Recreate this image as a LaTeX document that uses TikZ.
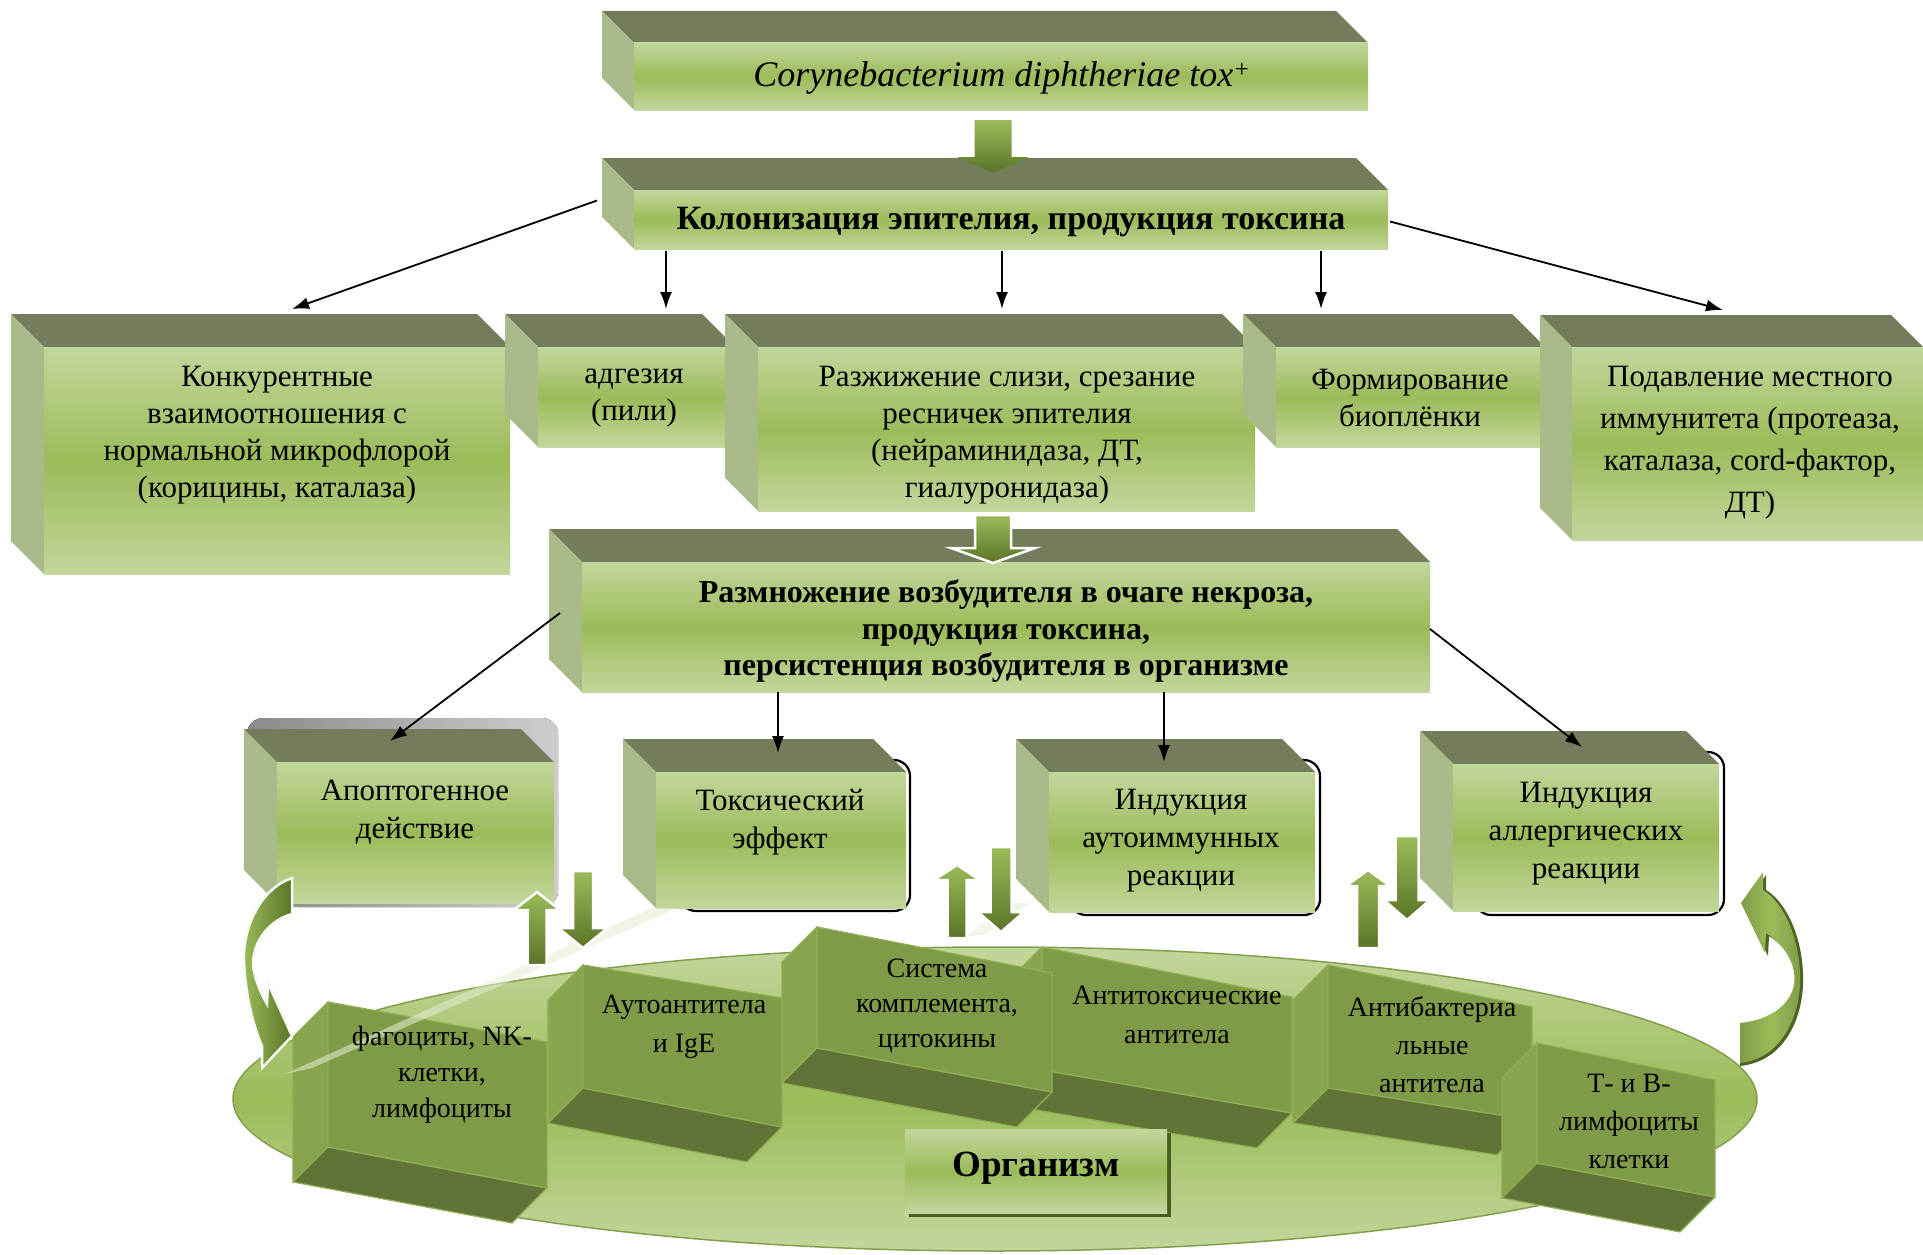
\documentclass[tikz,border=0pt]{standalone}
\usepackage{fontspec}
\setmainfont{Liberation Serif}
\usetikzlibrary{arrows.meta,calc}
\definecolor{gtop}{HTML}{737D5C}
\definecolor{gside}{HTML}{A9B98A}
\definecolor{glight}{HTML}{C3D69B}
\definecolor{gmid}{HTML}{9BBB59}
\definecolor{slabF}{HTML}{809B48}
\definecolor{slabL}{HTML}{88A44E}
\definecolor{slabB}{HTML}{607438}
\definecolor{gdark}{HTML}{5A7428}
\definecolor{gshadow}{HTML}{ADADAD}
\tikzset{
 topface/.style={fill=gtop},
 sideface/.style={fill=gside},
 frontface/.style={top color=glight, bottom color=glight, middle color=gmid, inner sep=0pt, outer sep=0pt, draw=none},
 txt/.style={align=center, font=\fontsize{31}{37}\selectfont, inner sep=0pt},
 btxt/.style={align=center, font=\fontsize{32}{36.5}\selectfont\bfseries, inner sep=0pt},
 stxt/.style={align=center, font=\fontsize{28}{36}\selectfont, inner sep=0pt},
 conn/.style={-{Latex[length=17pt,width=12pt]}, line width=1.8pt},
 blockarr/.style={top color=gmid, bottom color=gdark},
 whiteedge/.style={draw=white, line width=2.5pt},
 slabedge/.style={draw=gmid!60!slabF, line width=1.2pt},
}
\newcommand\cubebox[6]{%
 \fill[topface] (#2-#6,#3-#6) -- (#4-#6,#3-#6) -- (#4,#3) -- (#2,#3) -- cycle;
 \fill[sideface] (#2-#6,#3-#6) -- (#2,#3) -- (#2,#5) -- (#2-#6,#5-#6) -- cycle;
 \node[frontface, anchor=north west, minimum width={#4-#2}, minimum height={#5-#3}] (#1) at (#2,#3) {};
}
\newcommand\blockarrow[7]{%
 \path[#1] (#2-#6/2,#3) -- (#2+#6/2,#3) -- (#2+#6/2,#4) -- (#2+#7/2,#4) -- (#2,#5) -- (#2-#7/2,#4) -- (#2-#6/2,#4) -- cycle;
}
\newcommand\slab[6]{%
 \filldraw[fill=slabL, slabedge] (#1,#3) -- (#1,#6) -- (#1-35,#6+35) -- (#1-35,#3+35) -- cycle;
 \filldraw[fill=slabB, slabedge] (#1,#6) -- (#2,#5) -- (#2-35,#5+35) -- (#1-35,#6+35) -- cycle;
 \filldraw[fill=slabF, slabedge] (#1,#3) -- (#2,#4) -- (#2,#5) -- (#1,#6) -- cycle;
}
\begin{document}
\begin{tikzpicture}[x=1pt,y=-1pt]
\useasboundingbox (0,0) rectangle (1923,1255);

% ---- top boxes
\cubebox{A}{634}{43}{1368}{110}{32}
\cubebox{B}{634}{190}{1388}{249}{32}
\blockarrow{blockarr}{993}{120}{157}{173}{37}{72}

% ---- row 2
\cubebox{C}{44}{347}{510}{574}{33}
\cubebox{D}{538}{347}{735}{447}{33}
\cubebox{E}{758}{347}{1255}{511}{33}
\cubebox{F}{1276}{347}{1545}{447}{33}
\cubebox{G}{1572}{347}{1923}{540}{32}

% ---- H
\cubebox{H}{582}{562}{1430}{692}{33}
\blockarrow{blockarr,whiteedge}{993}{515}{548}{563}{36}{84}

% ---- organism plate
\path[top color=glight, bottom color=glight, middle color=gmid, draw=gmid!85!black, line width=1.5pt]
  (995,1099) ellipse [x radius=762, y radius=152];

% ---- row 4
\fill[left color=gshadow!80!black, right color=gshadow!60, rounded corners=16pt] (247,868) -- (247,718) -- (558,718) -- (558,907) -- (282,907) -- cycle;
\cubebox{I}{277}{762}{554}{903}{33}
\draw[line width=2.2pt, rounded corners=16pt] (680,760) rectangle (910,911);
\cubebox{J}{656}{772}{906}{908}{33}
\draw[line width=2.2pt, rounded corners=16pt] (1070,760) rectangle (1320,915);
\cubebox{K}{1049}{772}{1315}{912}{33}
\draw[line width=2.2pt, rounded corners=16pt] (1475,752) rectangle (1724,915);
\cubebox{L}{1453}{764}{1719}{911}{33}

% ---- slabs
\slab{328}{547}{1002}{1042}{1188}{1147}
\slab{583}{782}{965}{998}{1127}{1088}
\slab{1042}{1292}{947}{997}{1113}{1070}
\slab{817}{1052}{927}{973}{1092}{1048}
\slab{1328}{1532}{965}{1007}{1120}{1088}
\slab{1537}{1715}{1043}{1080}{1197}{1163}

% faint reflections
\fill[white!55!glight, opacity=0.55] (652,908) -- (678,908) -- (312,1068) -- (285,1074) -- cycle;
\fill[white!55!glight, opacity=0.5] (1012,903) -- (1030,903) -- (985,935) -- (966,936) -- cycle;

% ---- organism box
\fill[gdark!80!black] (909,1133) rectangle (1171,1217);
\node[frontface, anchor=north west, minimum width=262, minimum height=84] (org) at (905,1129) {};

% ---- vertical double arrows
\blockarrow{blockarr,whiteedge}{537}{965}{910}{892}{19}{46}
\blockarrow{blockarr,whiteedge}{583}{871}{928}{948}{20}{49}
\blockarrow{blockarr,whiteedge}{957}{938}{880}{865}{19}{46}
\blockarrow{blockarr,whiteedge}{1001}{847}{912}{932}{21}{46}
\blockarrow{blockarr,whiteedge}{1368}{948}{886}{870}{22}{44}
\blockarrow{blockarr,whiteedge}{1407}{836}{900}{920}{23}{46}

% ---- curved arrows
\path[left color=gmid, right color=gdark, draw=white!92!gmid, line width=2.5pt]
  (292,878) .. controls (262,888) and (243,925) .. (244,960)
  .. controls (245,995) and (254,1028) .. (262,1046) -- (262,1068) -- (292,1036) -- (268,983)
  -- (267,1004) .. controls (259,990) and (253,975) .. (253,962)
  .. controls (254,940) and (270,920) .. (292,914) -- cycle;
\fill[gdark!85!black]
  (1740,1066) .. controls (1788,1061) and (1805,1012) .. (1803,973)
  .. controls (1801,930) and (1783,900) .. (1766,890) -- (1766,875) -- (1744,906) -- (1768,956)
  -- (1769,936) .. controls (1788,948) and (1800,968) .. (1797,988)
  .. controls (1793,1008) and (1773,1023) .. (1743,1026) -- cycle;
\path[left color=slabF, right color=slabF, middle color=gmid]
  (1740,1063) .. controls (1785,1058) and (1802,1010) .. (1800,973)
  .. controls (1798,930) and (1780,900) .. (1763,890) -- (1763,872) -- (1741,903) -- (1765,953)
  -- (1766,933) .. controls (1785,945) and (1797,965) .. (1794,985)
  .. controls (1790,1005) and (1770,1020) .. (1740,1023) -- cycle;

% ---- texts
\node[align=center, inner sep=0pt, font=\fontsize{36}{40}\selectfont\itshape] (tA) at (1002,78) {Corynebacterium diphtheriae tox\textsuperscript{+}};
\node[btxt, font=\fontsize{34}{38}\selectfont\bfseries] (tB) at (1011,222) {Колонизация эпителия, продукция токсина};
\node[txt] (tC) at (277,435) {Конкурентные\\взаимоотношения с\\нормальной микрофлорой\\(корицины, каталаза)};
\node[txt] (tD) at (634,398) {адгезия\\(пили)};
\node[txt] (tE) at (1007,435) {Разжижение слизи, срезание\\ресничек эпителия\\(нейраминидаза, ДТ,\\гиалуронидаза)};
\node[txt] (tF) at (1410,398) {Формирование\\биоплёнки};
\node[txt, font=\fontsize{31}{42}\selectfont] (tG) at (1750,443) {Подавление местного\\иммунитета (протеаза,\\каталаза, cord-фактор,\\ДТ)};
\node[btxt] (tH) at (1006,631) {Размножение возбудителя в очаге некроза,\\продукция токсина,\\персистенция возбудителя в организме};
\node[txt, font=\fontsize{31}{38}\selectfont] (tI) at (415,812) {Апоптогенное\\действие};
\node[txt, font=\fontsize{31}{38}\selectfont] (tJ) at (780,822) {Токсический\\эффект};
\node[txt, font=\fontsize{31}{38}\selectfont] (tK) at (1181,841) {Индукция\\аутоиммунных\\реакции};
\node[txt, font=\fontsize{31}{38}\selectfont] (tL) at (1586,834) {Индукция\\аллергических\\реакции};
\node[stxt] (s1) at (442,1075) {фагоциты, NK-\\клетки,\\лимфоциты};
\node[stxt, font=\fontsize{28}{39}\selectfont] (s2) at (684,1027) {Аутоантитела\\и IgE};
\node[stxt, font=\fontsize{28}{35}\selectfont] (s3) at (937,1006) {Система\\комплемента,\\цитокины};
\node[stxt, font=\fontsize{28}{39}\selectfont] (s4) at (1177,1015) {Антитоксические\\антитела};
\node[stxt, font=\fontsize{28}{38}\selectfont] (s5) at (1432,1045) {Антибактериа\\льные\\антитела};
\node[stxt, font=\fontsize{28}{38}\selectfont] (s6) at (1629,1121) {Т- и В-\\лимфоциты\\клетки};
\node[align=center, inner sep=0pt, font=\fontsize{37}{40}\selectfont\bfseries] (tO) at (1036,1168) {Организм};

% ---- connectors
\draw[conn] ($(B.west)+(-37,-19)$) -- ($(C.north)+(15,-38)$);
\draw[conn] ($(B.south west)+(32,2)$) -- ($(D.north west)+(128,-38)$);
\draw[conn] ($(B.south)+(-9,2)$) -- ($(E.north)+(-4.5,-38)$);
\draw[conn] ($(B.south east)+(-67,2)$) -- ($(F.north west)+(45,-38)$);
\draw[conn] ($(B.east)+(2,2)$) -- ($(G.north)+(-24.5,-37)$);
\draw[conn] ($(H.west)+(-22,-14)$) -- ($(I.north)+(-25.5,-21)$);
\draw[conn] ($(H.south west)+(196,0)$) -- ($(J.north)+(-3,-19)$);
\draw[conn] ($(H.south west)+(582,0)$) -- ($(K.north)+(-18,-10)$);
\draw[conn] ($(H.east)+(0,2)$) -- ($(L.north)+(-4,-17)$);
\end{tikzpicture}
\end{document}
